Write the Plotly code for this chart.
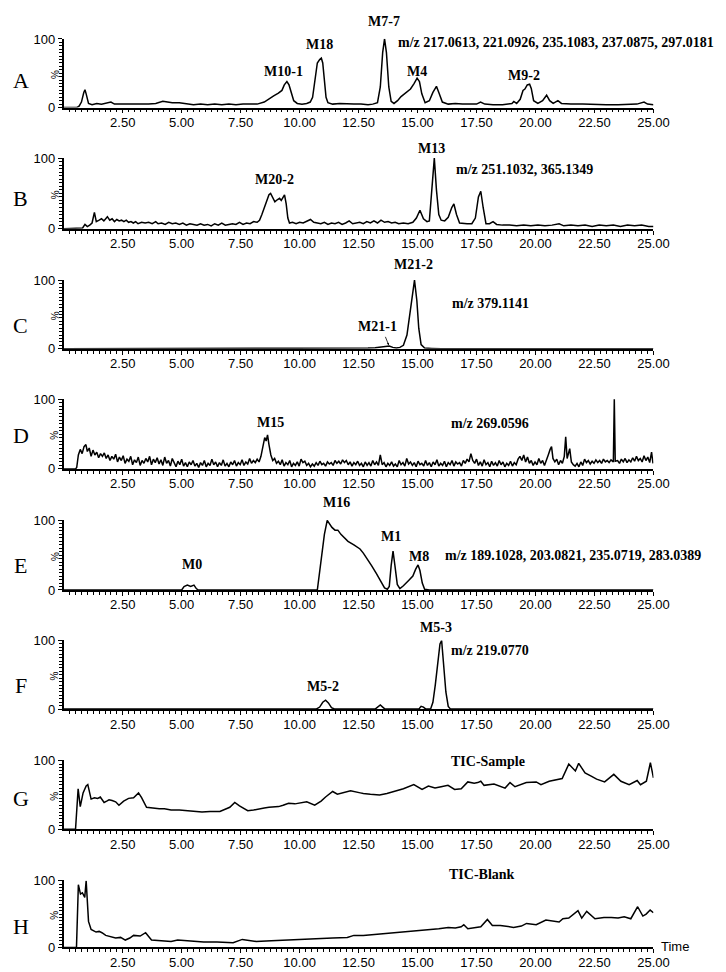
import plotly.graph_objects as go

# ---------------- data (retention time in min, relative intensity in %) ----------------
tA = [0.0, 0.55, 0.65, 0.75, 0.85, 0.9, 0.95, 1.05, 1.2, 1.4, 1.6, 1.8, 2.0, 2.15, 2.4, 2.7, 3.0, 3.3, 3.6, 3.9,
      4.2, 4.4, 4.6, 4.9, 5.2, 5.5, 5.8, 6.1, 6.4, 6.7, 7.0, 7.3, 7.6, 7.9, 8.2, 8.5, 8.7, 8.9, 9.1, 9.25,
      9.35, 9.46, 9.55, 9.65, 9.75, 9.9, 10.1, 10.3, 10.45, 10.55, 10.65, 10.75, 10.85, 10.92, 10.98, 11.05,
      11.12, 11.2, 11.4, 11.7, 12.0, 12.3, 12.6, 12.9, 13.1, 13.3, 13.42, 13.52, 13.6, 13.68, 13.78, 13.88,
      14.0, 14.15, 14.3, 14.5, 14.7, 14.85, 14.98, 15.08, 15.18, 15.32, 15.5, 15.65, 15.8, 15.92, 16.05,
      16.3, 16.6, 16.9, 17.2, 17.5, 17.67, 17.85, 18.2, 18.6, 19.0, 19.08, 19.2, 19.35, 19.47, 19.55, 19.65,
      19.75, 19.82, 19.92, 20.1, 20.3, 20.47, 20.6, 20.75, 20.95, 21.1, 21.5, 22.0, 22.5, 23.0, 23.5, 24.0,
      24.3, 24.6, 24.75, 25.0]
iA = [0, 0, 2, 8, 22, 26, 20, 6, 4, 6, 5, 6, 8, 5, 5, 4, 5, 4, 5, 6,
      9, 8, 7, 7, 5, 4, 5, 4, 5, 4, 5, 4, 5, 5, 5, 8, 13, 17, 21, 25,
      33, 38, 33, 20, 10, 6, 5, 6, 8, 15, 40, 65, 70, 72, 65, 40,
      15, 7, 5, 6, 5, 5, 5, 4, 5, 7, 30, 80, 100, 80, 30, 9,
      6, 10, 16, 21, 27, 35, 43, 38, 20, 7, 10, 22, 31, 20, 8,
      5, 6, 5, 5, 5, 8, 5, 4, 4, 6, 9, 6, 12, 25, 27, 33,
      34, 28, 10, 6, 10, 18, 10, 6, 10, 6, 5, 5, 4, 4, 4, 4,
      5, 8, 5, 4]

tB = [0.0, 0.5, 0.8, 0.9, 1.0, 1.1, 1.2, 1.3, 1.38, 1.5, 1.6, 1.7, 1.8, 1.85, 1.95, 2.05, 2.15, 2.25, 2.35,
      2.45, 2.55, 2.65, 2.75, 2.85, 2.95, 3.05, 3.15, 3.3, 3.45, 3.6, 3.75, 3.9, 4.0, 4.15, 4.3, 4.45, 4.6,
      4.75, 4.9, 5.05, 5.2, 5.35, 5.5, 5.65, 5.8, 5.95, 6.1, 6.25, 6.4, 6.55, 6.7, 6.85, 7.0, 7.15, 7.3,
      7.45, 7.6, 7.75, 7.9, 8.05, 8.2, 8.3, 8.4, 8.5, 8.6, 8.7, 8.77, 8.85, 8.95, 9.05, 9.15, 9.22, 9.3,
      9.36, 9.43, 9.5, 9.57, 9.7, 9.85, 10.0, 10.15, 10.3, 10.46, 10.6, 10.75, 10.9, 11.05, 11.2, 11.35,
      11.5, 11.65, 11.8, 11.95, 12.1, 12.25, 12.4, 12.55, 12.7, 12.85, 13.0, 13.15, 13.3, 13.45, 13.6,
      13.75, 13.9, 14.05, 14.2, 14.4, 14.6, 14.8, 14.95, 15.1, 15.25, 15.4, 15.5, 15.6, 15.71, 15.8, 15.9,
      16.0, 16.15, 16.3, 16.45, 16.54, 16.65, 16.78, 16.95, 17.1, 17.3, 17.45, 17.58, 17.68, 17.78, 17.9,
      18.05, 18.2, 18.35, 18.6, 18.9, 19.2, 19.5, 19.8, 20.1, 20.4, 20.7, 21.0, 21.2, 21.5, 21.8, 22.1,
      22.4, 22.7, 23.0, 23.3, 23.6, 23.9, 24.2, 24.5, 24.8, 25.0]
iB = [0, 0, 1, 6, 3, 5, 8, 23, 10, 12, 14, 11, 15, 17, 12, 14, 10, 13, 11,
      12, 10, 12, 9, 10, 8, 10, 7, 9, 8, 9, 7, 10, 7, 8, 6, 9, 7,
      8, 6, 8, 5, 7, 6, 5, 7, 5, 6, 4, 7, 5, 8, 5, 6, 7, 6,
      9, 6, 8, 7, 10, 9, 12, 20, 30, 38, 48, 50, 45, 38, 41, 43, 40, 46,
      48, 35, 15, 8, 9, 7, 9, 8, 10, 13, 9, 8, 7, 9, 6, 8,
      7, 9, 6, 8, 11, 7, 8, 9, 7, 10, 8, 11, 8, 12, 9,
      10, 8, 9, 7, 8, 7, 9, 15, 26, 14, 10, 11, 50, 100, 55, 20,
      12, 11, 16, 30, 35, 20, 8, 7, 7, 7, 15, 45, 53, 30, 7,
      7, 10, 6, 5, 5, 4, 5, 4, 5, 4, 5, 7, 4, 5, 4, 5,
      3, 5, 4, 5, 3, 5, 4, 5, 3, 3]

tC = [0.0, 0.9, 1.0, 1.2, 12.6, 12.9, 13.2, 13.5, 13.7, 13.8, 13.95, 14.1, 14.25, 14.4, 14.55, 14.65, 14.75,
      14.87, 14.97, 15.05, 15.15, 15.3, 15.6, 16.0, 25.0]
iC = [0, 0, 0.7, 0, 0, 1, 1.5, 2.5, 4, 4, 2, 1, 2, 5, 20, 45, 75,
      100, 70, 30, 6, 1, 0.5, 0, 0]

tD = [0.0, 0.5, 0.55, 0.62, 0.7, 0.78, 0.86, 0.94, 1.0, 1.08, 1.16, 1.24, 1.32, 1.4, 1.48, 1.56, 1.64, 1.72,
      1.8, 1.88, 1.96, 2.04, 2.12, 2.2, 2.28, 2.36, 2.44, 2.52, 2.6, 2.68, 2.76, 2.84, 2.92, 3.0, 3.08, 3.16,
      3.24, 3.32, 3.4, 3.48, 3.56, 3.64, 3.72, 3.8, 3.88, 3.96, 4.04, 4.12, 4.2, 4.28, 4.36, 4.44, 4.52, 4.6,
      4.68, 4.76, 4.84, 4.92, 5.0, 5.08, 5.16, 5.24, 5.32, 5.4, 5.48, 5.56, 5.64, 5.72, 5.8, 5.88, 5.96, 6.04,
      6.12, 6.2, 6.28, 6.36, 6.44, 6.52, 6.6, 6.68, 6.76, 6.84, 6.92, 7.0, 7.08, 7.16, 7.24, 7.32, 7.4, 7.48,
      7.56, 7.64, 7.72, 7.8, 7.88, 7.96, 8.04, 8.12, 8.2, 8.28, 8.36, 8.44, 8.52, 8.58, 8.64, 8.7, 8.78, 8.86,
      8.94, 9.02, 9.1, 9.18, 9.26, 9.34, 9.42, 9.5, 9.58, 9.66, 9.74, 9.82, 9.9, 9.98, 10.06, 10.14, 10.22,
      10.3, 10.38, 10.46, 10.54, 10.62, 10.7, 10.78, 10.86, 10.94, 11.02, 11.1, 11.18, 11.26, 11.34, 11.42,
      11.5, 11.58, 11.66, 11.74, 11.82, 11.9, 11.98, 12.06, 12.14, 12.22, 12.3, 12.38, 12.46, 12.54, 12.62,
      12.7, 12.78, 12.86, 12.94, 13.02, 13.1, 13.18, 13.26, 13.34, 13.42, 13.5, 13.58, 13.66, 13.74, 13.82,
      13.9, 13.98, 14.06, 14.14, 14.22, 14.3, 14.38, 14.46, 14.54, 14.62, 14.7, 14.78, 14.86, 14.94, 15.02,
      15.1, 15.18, 15.26, 15.34, 15.42, 15.5, 15.58, 15.66, 15.74, 15.82, 15.9, 15.98, 16.06, 16.14, 16.22,
      16.3, 16.38, 16.46, 16.54, 16.62, 16.7, 16.78, 16.86, 16.94, 17.02, 17.1, 17.18, 17.26, 17.34, 17.42,
      17.5, 17.58, 17.66, 17.74, 17.82, 17.9, 17.98, 18.06, 18.14, 18.22, 18.3, 18.38, 18.46, 18.54, 18.62,
      18.7, 18.78, 18.86, 18.94, 19.02, 19.1, 19.18, 19.26, 19.34, 19.42, 19.5, 19.58, 19.66, 19.74, 19.82,
      19.9, 19.98, 20.06, 20.14, 20.22, 20.3, 20.38, 20.46, 20.54, 20.62, 20.68, 20.74, 20.82, 20.9, 20.98,
      21.06, 21.14, 21.22, 21.28, 21.34, 21.4, 21.45, 21.52, 21.6, 21.68, 21.76, 21.84, 21.92, 22.0, 22.08,
      22.16, 22.24, 22.32, 22.4, 22.48, 22.56, 22.64, 22.72, 22.8, 22.88, 22.96, 23.04, 23.12, 23.2, 23.3,
      23.34, 23.38, 23.48, 23.56, 23.64, 23.72, 23.8, 23.88, 23.96, 24.04, 24.12, 24.2, 24.28, 24.36, 24.44,
      24.52, 24.6, 24.68, 24.76, 24.84, 24.92, 24.98]
iD = [0, 0, 2, 20, 28, 22, 32, 35, 25, 30, 18, 27, 20, 24, 16, 22, 18, 23,
      15, 20, 12, 18, 14, 21, 10, 17, 12, 19, 8, 14, 11, 18, 6, 13, 9, 17,
      5, 12, 8, 15, 10, 18, 6, 14, 9, 16, 7, 13, 5, 17, 8, 12, 4, 15,
      9, 3, 11, 6, 14, 4, 9, 3, 10, 6, 12, 4, 8, 2, 9, 5, 12, 3,
      8, 5, 14, 6, 10, 3, 9, 5, 13, 4, 8, 3, 10, 6, 12, 4, 9, 6,
      13, 5, 10, 7, 15, 8, 12, 9, 14, 10, 18, 30, 45, 40, 49, 35, 20, 12,
      15, 8, 11, 6, 13, 4, 9, 6, 12, 3, 8, 5, 10, 4, 14, 9, 11,
      5, 8, 3, 7, 4, 9, 5, 11, 6, 8, 4, 10, 7, 9, 5,
      12, 8, 11, 7, 13, 9, 12, 6, 10, 4, 9, 6, 11, 5, 8,
      3, 10, 5, 9, 4, 12, 6, 10, 5, 20, 6, 9, 3, 8, 5,
      10, 4, 7, 3, 12, 6, 9, 4, 15, 7, 10, 5, 9, 3, 11,
      6, 8, 4, 12, 5, 9, 3, 10, 6, 13, 4, 8, 5, 11, 3,
      9, 6, 12, 4, 10, 7, 9, 4, 12, 8, 14, 10, 22, 12, 8,
      14, 5, 10, 4, 13, 6, 9, 3, 11, 5, 9, 4, 12, 6, 10,
      3, 8, 5, 11, 4, 9, 6, 14, 18, 12, 20, 10, 17, 8, 12,
      5, 10, 6, 15, 8, 12, 5, 14, 20, 28, 32, 15, 10, 14, 6,
      12, 8, 18, 46, 15, 25, 29, 10, 6, 4, 8, 3, 10, 5, 14,
      9, 12, 7, 11, 8, 13, 9, 12, 8, 14, 10, 12, 9, 13, 10,
      100, 11, 12, 8, 14, 10, 15, 9, 13, 10, 16, 11, 18, 12, 15,
      10, 19, 12, 17, 9, 24, 8]

tE = [0.0, 5.0, 5.1, 5.24, 5.38, 5.52, 5.62, 5.7, 10.75, 10.85, 10.95, 11.05, 11.17, 11.27, 11.37, 11.5,
      11.62, 11.75, 11.88, 12.05, 12.3, 12.56, 12.7, 12.85, 13.05, 13.25, 13.45, 13.6, 13.72, 13.8, 13.88,
      13.96, 14.04, 14.14, 14.25, 14.4, 14.6, 14.8, 14.92, 15.02, 15.1, 15.2, 15.3, 15.5, 25.0]
iE = [0, 0, 5, 7, 5, 7, 2, 0, 0, 25, 55, 80, 100, 95, 90, 86,
      86, 80, 75, 70, 65, 59, 53, 46, 35, 24, 11, 3, 1, 5, 35,
      56, 35, 8, 2, 6, 13, 20, 30, 36, 28, 10, 1, 0, 0]

tF = [0.0, 10.7, 10.85, 10.98, 11.1, 11.22, 11.35, 11.5, 13.2, 13.32, 13.42, 13.52, 13.62, 15.05, 15.15,
      15.25, 15.35, 15.55, 15.65, 15.75, 15.85, 15.95, 16.02, 16.1, 16.2, 16.3, 16.4, 25.0]
iF = [0, 0, 3, 10, 13, 9, 2, 0, 0, 4, 6, 3, 0, 0, 4,
      3, 0, 0, 10, 35, 70, 95, 100, 70, 25, 4, 0, 0]

tG = [0.0, 0.5, 0.61, 0.7, 0.82, 0.95, 1.02, 1.16, 1.3, 1.44, 1.55, 1.71, 1.82, 1.92, 2.05, 2.2, 2.34, 2.54,
      2.75, 2.96, 3.17, 3.3, 3.51, 3.7, 3.86, 4.05, 4.27, 4.55, 4.9, 5.38, 5.86, 6.2, 6.62, 7.04, 7.25, 7.45,
      7.8, 8.05, 8.28, 8.5, 8.7, 9.11, 9.3, 9.53, 9.8, 10.08, 10.3, 10.64, 10.91, 11.1, 11.4, 11.6, 11.9,
      12.16, 12.57, 12.7, 13.0, 13.39, 13.7, 14.09, 14.4, 14.84, 15.19, 15.46, 15.74, 16.0, 16.29, 16.57,
      16.85, 17.13, 17.4, 17.55, 17.68, 17.82, 18.24, 18.71, 18.92, 19.13, 19.4, 19.61, 20.03, 20.23, 20.58,
      20.86, 21.13, 21.41, 21.55, 21.69, 21.83, 22.1, 22.38, 22.59, 22.93, 23.32, 23.62, 23.97, 24.31,
      24.45, 24.7, 24.87, 25.0]
iG = [0, 0, 59, 33, 53, 63, 65, 44, 46, 45, 47, 39, 41, 43, 42, 40, 35, 41,
      45, 46, 53, 46, 32, 31, 31, 30, 30, 28, 28, 27, 25, 26, 26, 32, 39, 34,
      27, 28, 30, 31, 32, 33, 35, 38, 37, 39, 40, 35, 41, 47, 55, 51, 54,
      56, 53, 52, 51, 50, 52, 56, 59, 65, 58, 63, 60, 62, 64, 58,
      59, 69, 67, 68, 70, 64, 66, 60, 68, 62, 66, 68, 69, 65, 70,
      72, 74, 95, 90, 85, 96, 82, 77, 73, 69, 80, 70, 65, 71,
      65, 70, 97, 75]

tH = [0.0, 0.54, 0.62, 0.71, 0.79, 0.89, 0.95, 1.05, 1.16, 1.37, 1.5, 1.62, 1.78, 2.0, 2.2, 2.41, 2.61, 2.8,
      2.96, 3.24, 3.47, 3.72, 4.1, 4.55, 4.83, 5.4, 5.93, 6.5, 7.18, 7.57, 8.15, 8.8, 9.39, 10.1, 10.77, 11.4,
      12.02, 12.3, 12.7, 13.4, 14.09, 14.8, 15.47, 15.9, 16.3, 16.6, 16.85, 16.96, 17.13, 17.68, 17.96,
      18.17, 18.51, 19.07, 19.4, 19.62, 20.03, 20.44, 21.0, 21.16, 21.41, 21.8, 21.96, 22.17, 22.52, 22.9,
      23.21, 23.5, 23.76, 24.04, 24.33, 24.55, 24.69, 24.86, 25.0]
iH = [0, 0, 94, 80, 82, 75, 100, 39, 27, 23, 24, 22, 18, 16, 14, 15, 11, 14,
      18, 17, 22, 11, 10, 9, 11, 9, 8, 8, 7, 12, 9, 10, 11, 12, 14, 14,
      15, 18, 18, 20, 22, 24, 27, 28, 30, 29, 31, 34, 28, 31, 42,
      33, 33, 30, 32, 36, 34, 41, 38, 43, 44, 55, 44, 54, 43, 45,
      45, 44, 46, 43, 61, 47, 50, 56, 52]

panel_letters = ["A", "B", "C", "D", "E", "F", "G", "H"]
x_tick_values = [2.5, 5.0, 7.5, 10.0, 12.5, 15.0, 17.5, 20.0, 22.5, 25.0]
x_tick_labels = ["2.50", "5.00", "7.50", "10.00", "12.50", "15.00", "17.50", "20.00", "22.50", "25.00"]

series = [(tA, iA), (tB, iB), (tC, iC), (tD, iD), (tE, iE), (tF, iF), (tG, iG), (tH, iH)]

# ---------------- layout geometry (pixels) ----------------
W, H = 726, 972
X0, X1 = 57, 660
PANEL_PX = [(24, 94), (145, 217), (269, 339), (390, 461), (513, 584), (635, 705), (757, 827), (879, 947)]
LETTER_PY = [67, 186, 315, 427, 559, 681, 796, 926]

SANS = "Liberation Sans, Arial, sans-serif"
SERIF = "Liberation Serif, Times New Roman, serif"

def px(x):
    return x / W

def py(y):
    return 1 - y / H

fig = go.Figure()
annotations = []
for i, (t, v) in enumerate(series):
    n = "" if i == 0 else str(i + 1)
    fig.add_trace(go.Scatter(x=t, y=v, mode="lines", line=dict(color="black", width=1.5),
                             xaxis="x" + n, yaxis="y" + n, showlegend=False, hoverinfo="skip"))
    top, bot = PANEL_PX[i]
    fig.layout["xaxis" + n] = dict(
        domain=[px(X0), px(X1)], anchor="y" + n, range=[0, 25],
        showline=True, linecolor="black", linewidth=1.8, showgrid=False, zeroline=False,
        tickmode="array", tickvals=x_tick_values, ticktext=x_tick_labels,
        ticks="outside", ticklen=4, tickwidth=1.4, tickcolor="black", ticklabelstandoff=-2,
        tickfont=dict(family=SANS, size=13, color="black"),
        minor=dict(tickmode="array", tickvals=[k * 0.25 for k in range(1, 101)],
                   ticks="outside", ticklen=3, tickwidth=1, tickcolor="black"),
    )
    fig.layout["yaxis" + n] = dict(
        domain=[py(bot), py(top)], anchor="x" + n, range=[0, 100.5],
        showline=True, linecolor="black", linewidth=1.8, showgrid=False, zeroline=False,
        tickmode="array", tickvals=[0, 100], ticktext=["0", "100"],
        ticks="outside", ticklen=4, tickwidth=1.4, tickcolor="black",
        tickfont=dict(family=SANS, size=13, color="black"),
        minor=dict(tickmode="array", tickvals=[k * 5 for k in range(1, 20)],
                   ticks="outside", ticklen=2.5, tickwidth=1, tickcolor="black"),
    )
    annotations.append(dict(xref="paper", yref="paper", x=px(13), y=py(LETTER_PY[i]),
                            xanchor="center", yanchor="middle",
                            text=panel_letters[i], showarrow=False,
                            font=dict(family=SERIF, size=22, color="black")))
    annotations.append(dict(xref="paper", yref="paper", x=px(48), y=py((top + bot) / 2 + 1),
                            xanchor="center", yanchor="middle",
                            text="%", textangle=-90, showarrow=False,
                            font=dict(family=SANS, size=10, color="black")))

labels = [
    ("M10-1", 282, 57, "center"), ("M18", 319, 30, "center"), ("M7-7", 384, 7, "center"),
    ("M4", 418, 57, "center"), ("M9-2", 528, 61, "center"),
    ("m/z 217.0613, 221.0926, 235.1083, 237.0875, 297.0181", 397, 28, "left"),
    ("M20-2", 273, 167, "center"), ("M13", 433, 136, "center"),
    ("m/z 251.1032, 365.1349", 456, 157, "left"),
    ("M21-2", 415, 253, "center"), ("m/z 379.1141", 493, 293, "center"), ("M21-1", 378, 316, "center"),
    ("M15", 268, 414, "center"), ("m/z 269.0596", 493, 415, "center"),
    ("M16", 336, 495, "center"), ("M1", 392, 530, "center"), ("M8", 420, 550, "center"),
    ("M0", 188, 558, "center"), ("m/z 189.1028, 203.0821, 235.0719, 283.0389", 578, 549, "center"),
    ("M5-3", 438, 622, "center"), ("m/z 219.0770", 493, 645, "center"), ("M5-2", 322, 682, "center"),
    ("TIC-Sample", 491, 758, "center"), ("TIC-Blank", 485, 873, "center"),
]
for text, x, y, anc in labels:
    annotations.append(dict(xref="paper", yref="paper", x=px(x), y=py(y), text="<b>" + text + "</b>",
                            xanchor=anc, yanchor="middle", showarrow=False,
                            font=dict(family=SERIF, size=14, color="black")))

# small arrow to M21-1 peak
annotations.append(dict(xref="x3", yref="y3", x=13.78, y=5, text="", showarrow=True,
                        arrowhead=2, arrowsize=0.6, arrowwidth=0.8, arrowcolor="black", ax=-4, ay=-10))
annotations.append(dict(xref="paper", yref="paper", x=px(666), y=py(946), text="Time", showarrow=False,
                        xanchor="left", yanchor="middle",
                        font=dict(family=SANS, size=13, color="black")))

fig.update_layout(width=W, height=H, margin=dict(l=0, r=0, t=0, b=0),
                  paper_bgcolor="white", plot_bgcolor="white", annotations=annotations)

fig.write_html("out.html")
